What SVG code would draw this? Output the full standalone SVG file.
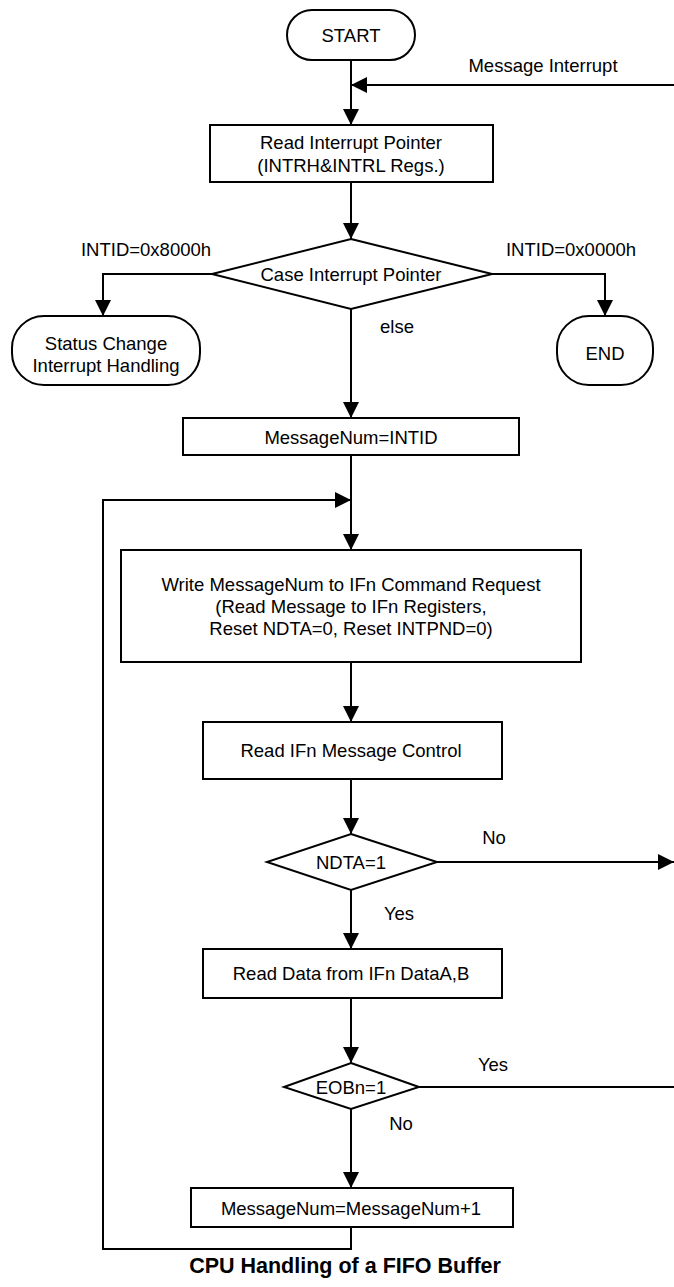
<svg xmlns="http://www.w3.org/2000/svg" width="674" height="1287" viewBox="0 0 674 1287">
<style>
.s{fill:#fff;stroke:#000;stroke-width:2}
.c{fill:none;stroke:#000;stroke-width:2}
.t{font-family:"Liberation Sans",Arial,sans-serif;font-size:18.5px;fill:#000;text-anchor:middle;dominant-baseline:central}
.b{font-family:"Liberation Sans",Arial,sans-serif;font-size:21.5px;font-weight:bold;fill:#000;text-anchor:middle;dominant-baseline:central}
</style>
<defs>
<marker id="a" markerUnits="userSpaceOnUse" markerWidth="16" markerHeight="16" refX="16" refY="8" orient="auto">
<path d="M0,0 L16,8 L0,16 z" fill="#000"/>
</marker>
</defs>
<rect width="674" height="1287" fill="#fff"/>
<g id="connectors">
<path class="c" d="M351,60 V125" marker-end="url(#a)"/>
<path class="c" d="M674,85 H351" marker-end="url(#a)"/>
<path class="c" d="M351,182 V239" marker-end="url(#a)"/>
<path class="c" d="M212,274 H103 V316" marker-end="url(#a)"/>
<path class="c" d="M492,274 H605 V316" marker-end="url(#a)"/>
<path class="c" d="M351,309 V418" marker-end="url(#a)"/>
<path class="c" d="M351,455 V550" marker-end="url(#a)"/>
<path class="c" d="M351,1227 V1249 H103 V500 H351" marker-end="url(#a)"/>
<path class="c" d="M351,662 V722" marker-end="url(#a)"/>
<path class="c" d="M351,779 V834" marker-end="url(#a)"/>
<path class="c" d="M437,862 H674" marker-end="url(#a)"/>
<path class="c" d="M351,890 V949" marker-end="url(#a)"/>
<path class="c" d="M351,998 V1063" marker-end="url(#a)"/>
<path class="c" d="M419,1087 H674"/>
<path class="c" d="M351,1109 V1188" marker-end="url(#a)"/>
<text class="t" x="543" y="65">Message Interrupt</text>
<text class="t" x="146" y="249">INTID=0x8000h</text>
<text class="t" x="571" y="249">INTID=0x0000h</text>
<text class="t" x="397" y="326">else</text>
<text class="t" x="494" y="837">No</text>
<text class="t" x="399" y="913">Yes</text>
<text class="t" x="493" y="1064">Yes</text>
<text class="t" x="401" y="1123">No</text>
</g>
<g id="start"><rect class="s" x="287" y="10" width="128" height="50" rx="25"/><text class="t" x="351" y="35">START</text></g>
<g id="readptr"><rect class="s" x="210" y="125" width="283" height="57"/><text class="t" x="351" y="142">Read Interrupt Pointer</text><text class="t" x="351" y="165">(INTRH&amp;INTRL Regs.)</text></g>
<g id="case"><polygon class="s" points="351,239 492,274 351,309 212,274"/><text class="t" x="351" y="274">Case Interrupt Pointer</text></g>
<g id="status"><rect class="s" x="12" y="316" width="188" height="69" rx="32"/><text class="t" x="106" y="343">Status Change</text><text class="t" x="106" y="365">Interrupt Handling</text></g>
<g id="end"><rect class="s" x="557" y="316" width="96" height="69" rx="32"/><text class="t" x="605" y="353">END</text></g>
<g id="msgnum"><rect class="s" x="183" y="418" width="336" height="37"/><text class="t" x="351" y="437">MessageNum=INTID</text></g>
<g id="write"><rect class="s" x="121" y="550" width="460" height="112"/><text class="t" x="351" y="584">Write MessageNum to IFn Command Request</text><text class="t" x="351" y="606">(Read Message to IFn Registers,</text><text class="t" x="351" y="628">Reset NDTA=0, Reset INTPND=0)</text></g>
<g id="readctrl"><rect class="s" x="203" y="722" width="299" height="57"/><text class="t" x="351" y="750">Read IFn Message Control</text></g>
<g id="ndta"><polygon class="s" points="351,834 437,862 351,890 267,862"/><text class="t" x="351" y="862">NDTA=1</text></g>
<g id="readdata"><rect class="s" x="203" y="949" width="299" height="49"/><text class="t" x="351" y="973">Read Data from IFn DataA,B</text></g>
<g id="eob"><polygon class="s" points="351,1063 419,1087 351,1109 284,1087"/><text class="t" x="351" y="1087">EOBn=1</text></g>
<g id="inc"><rect class="s" x="191" y="1188" width="322" height="39"/><text class="t" x="351" y="1208">MessageNum=MessageNum+1</text></g>
<text class="b" x="345" y="1266">CPU Handling of a FIFO Buffer</text>
</svg>
